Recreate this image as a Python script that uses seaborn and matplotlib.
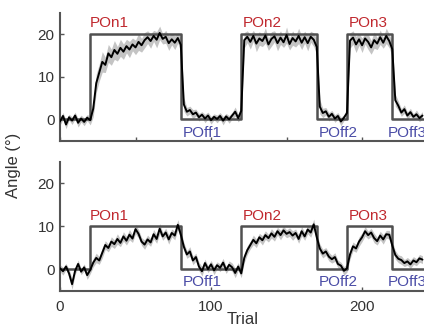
import numpy as np
import matplotlib
matplotlib.use("Agg")
import matplotlib.pyplot as plt
import seaborn as sns

# trial axis (every 2nd trial)
trials = np.arange(0, 242, 2)

# stimulus blocks: edges and target angle (deg)
edges = [0, 20, 80, 120, 170, 190, 220, 241]
top_amp = 20
bottom_amp = 10
on_off = [0, 1, 0, 1, 0, 1, 0]

top_mean = [
    -0.5, 0.8, -1.2, 0.5, -0.3, 0.9, -0.8, 0.2, -0.6, 0.4,
    -0.2, 2.5, 8.5, 11.0, 13.5, 12.8, 15.5, 14.6, 16.3, 15.4,
    16.8, 15.9, 17.2, 16.4, 17.6, 16.9, 18.2, 17.4, 18.6, 19.3,
    18.4, 19.6, 18.7, 20.3, 18.9, 19.4, 17.9, 18.8, 18.0, 19.1,
    17.5, 3.5, 1.8, 2.2, 1.2, 1.6, 0.5, 1.1, 0.2, 0.9,
    -0.2, 0.6, 0.1, 0.8, -0.3, 0.7, 0.0, 0.9, 1.8, 0.3,
    2.0, 18.6, 19.4, 18.2, 19.6, 17.8, 19.0, 18.4, 19.7, 17.6,
    18.9, 19.5, 17.9, 19.2, 18.1, 19.8, 17.7, 19.1, 18.3, 19.6,
    18.0, 19.3, 17.9, 19.4, 18.7, 17.0, 3.0, 1.5, 1.9, 0.6,
    1.3, 0.2, 0.8, -0.5, 0.4, 1.5, 18.5, 19.2, 17.6, 18.8,
    17.4, 19.0, 18.2, 16.9, 18.6, 17.8, 19.3, 18.0, 19.6, 18.4,
    16.5, 4.5, 3.2, 1.6, 2.4, 0.9, 1.7, 0.6, 1.2, 0.3,
    0.9,
]
top_sem = [
    0.9, 0.8, 1.0, 0.7, 0.9, 0.8, 1.0, 0.8, 0.9, 0.7,
    1.1, 1.9, 2.2, 2.0, 2.4, 1.8, 2.1, 1.9, 2.2, 1.7,
    2.0, 1.8, 1.6, 1.9, 1.5, 1.7, 2.0, 1.6, 1.8, 1.5,
    1.7, 1.3, 1.9, 1.6, 1.2, 1.5, 1.7, 1.3, 1.6, 1.2,
    1.8, 1.6, 1.0, 0.9, 1.1, 0.8, 0.9, 0.7, 1.0, 0.8,
    0.9, 0.7, 0.9, 0.8, 1.0, 0.7, 0.9, 0.8, 1.1, 0.9,
    1.6, 1.8, 1.4, 1.7, 1.3, 1.9, 1.6, 1.3, 1.8, 1.4,
    1.7, 1.3, 1.8, 1.6, 1.2, 1.9, 1.4, 1.7, 1.3, 1.8,
    1.6, 1.4, 1.8, 1.3, 1.6, 1.9, 1.7, 1.1, 0.9, 1.0,
    0.8, 0.9, 0.8, 1.0, 0.7, 1.3, 1.8, 1.6, 1.9, 1.4,
    1.7, 1.3, 1.8, 1.6, 1.9, 1.4, 1.7, 1.3, 1.8, 1.6,
    1.9, 1.4, 1.1, 0.9, 1.0, 0.8, 0.9, 0.7, 1.0, 0.8,
    0.9,
]

bottom_mean = [
    0.2, -0.5, 0.6, -1.0, -3.5, -0.4, 1.2, -0.6, 0.4, -1.4,
    -0.2, 1.5, 2.6, 2.0, 3.8, 5.6, 4.9, 6.4, 5.8, 7.0,
    6.1, 7.6, 6.6, 8.0, 7.1, 9.3, 8.2, 6.4, 5.7, 6.9,
    6.2, 8.1, 7.0, 9.4, 7.6, 8.5, 6.9, 8.4, 7.8, 10.3,
    8.0, 5.2, 3.4, 4.1, 2.0, 2.8, 0.6, -0.5, 1.4, 0.0,
    1.1, -0.3, 0.9, 0.3, 1.5, -0.2, 1.0, 0.4, -0.9, 0.6,
    -1.0, 2.6, 4.4, 5.6, 6.8, 6.0, 7.4, 6.7, 7.9, 7.2,
    8.3, 7.5, 8.8, 7.9, 9.0, 8.2, 8.6, 7.8, 8.4, 7.0,
    8.8, 7.6, 9.2, 8.5, 10.4, 7.4, 4.8, 3.6, 4.1, 2.9,
    2.3, 2.8, 1.2, 0.8, -0.4, 0.2, 3.4, 5.3, 4.8, 6.4,
    7.4, 8.8, 7.9, 8.5, 7.2, 6.5, 7.8, 6.9, 8.1, 8.0,
    5.5, 3.3, 2.4, 2.1, 1.4, 1.8, 1.1, 2.0, 1.6, 2.5,
    2.2,
]
bottom_sem = [
    0.8, 0.9, 0.7, 1.0, 1.2, 0.8, 0.9, 0.7, 0.8, 1.0,
    0.9, 1.0, 1.1, 0.9, 1.2, 1.0, 0.9, 1.1, 1.0, 1.2,
    0.9, 1.1, 1.0, 1.2, 0.9, 1.1, 1.0, 0.9, 1.1, 1.0,
    0.9, 1.1, 1.0, 1.2, 0.9, 1.0, 1.1, 0.9, 1.0, 1.2,
    1.1, 1.0, 0.9, 1.1, 1.0, 0.9, 1.0, 1.1, 0.9, 0.8,
    0.9, 1.0, 0.8, 0.9, 1.0, 0.8, 0.9, 1.0, 1.1, 0.9,
    1.0, 1.1, 1.0, 0.9, 1.1, 1.0, 0.9, 1.1, 1.0, 0.9,
    1.1, 1.0, 0.9, 1.1, 1.0, 0.9, 1.0, 1.1, 0.9, 1.0,
    1.1, 0.9, 1.0, 1.1, 1.2, 1.0, 1.1, 1.0, 0.9, 1.0,
    0.9, 1.0, 0.9, 0.8, 1.0, 0.9, 1.1, 1.0, 0.9, 1.1,
    1.0, 1.1, 0.9, 1.0, 1.1, 0.9, 1.0, 1.1, 0.9, 1.0,
    1.1, 1.0, 0.9, 1.0, 0.8, 0.9, 1.0, 0.9, 0.8, 0.9,
    0.9,
]

# block labels and their x positions (trial)
block_labels = ["POn1", "POff1", "POn2", "POff2", "POn3", "POff3"]
label_x = [20, 81, 121, 171, 191, 217]

sns.set_style("ticks")
plt.rcParams["font.family"] = ["Liberation Sans", "DejaVu Sans"]

spine_col = "#555555"
red = "#c0282e"
blue = "#4a4ca6"

fig = plt.figure(figsize=(4.24, 3.31), dpi=100)
ax_top = fig.add_axes([0.1415, 0.575, 0.8585, 0.386])
ax_bot = fig.add_axes([0.1415, 0.122, 0.8585, 0.390])

panels = [
    (ax_top, top_mean, top_sem, top_amp, 22.6, -3.2),
    (ax_bot, bottom_mean, bottom_sem, bottom_amp, 12.3, -3.1),
]

for ax, mean, sem, amp, on_y, off_y in panels:
    mean = np.array(mean)
    sem = np.array(sem)
    ax.fill_between(trials, mean - sem, mean + sem, color="#c4c4c4",
                    lw=0, zorder=1)
    levels = [amp * v for v in on_off] + [0]
    sns.lineplot(x=edges, y=levels, ax=ax, drawstyle="steps-post",
                 color="#505050", lw=1.8, estimator=None, zorder=2)
    sns.lineplot(x=trials, y=mean, ax=ax, color="black", lw=1.4,
                 estimator=None, zorder=3)
    for name, lx in zip(block_labels, label_x):
        if name.startswith("POn"):
            ax.text(lx, on_y, name, color=red, fontsize=11,
                    ha="left", va="center")
        else:
            ax.text(lx, off_y, name, color=blue, fontsize=11,
                    ha="left", va="center")

    ax.set_xlim(0, 241)
    ax.set_ylim(-5, 25)
    ax.set_yticks([0, 10, 20])
    ax.set_xlabel("")
    ax.set_ylabel("")
    sns.despine(ax=ax)
    for s in ["left", "bottom"]:
        ax.spines[s].set_color(spine_col)
        ax.spines[s].set_linewidth(1.5)
    ax.tick_params(direction="in", length=3, width=1, color=spine_col,
                   labelsize=11, labelcolor="#333333")
    ax.tick_params(axis="y", pad=4)

ax_top.set_xticks([0, 50, 100, 150, 200])
ax_top.set_xticklabels([])
ax_bot.set_xticks([0, 100, 200])
ax_bot.tick_params(axis="x", pad=7)

fig.text(0.033, 0.5, "Angle (°)", rotation=90, ha="center", va="center",
         fontsize=12, color="#333333")
fig.text(0.572, 0.035, "Trial", ha="center", va="center",
         fontsize=12, color="#333333")

fig.savefig("out.png", dpi=100)
